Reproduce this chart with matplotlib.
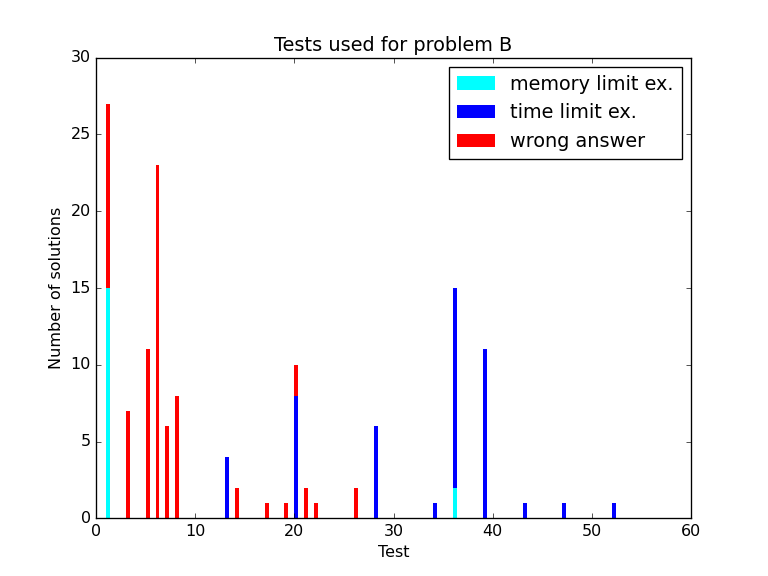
import numpy as np
import matplotlib
matplotlib.use('Agg')
import matplotlib.pyplot as plt

plt.style.use('classic')

# tests that had at least one failing solution
tests = [1, 3, 5, 6, 7, 8, 13, 14, 17, 19, 20, 21, 22, 26, 28, 34, 36, 39, 43, 47, 52]
memory = [15, 0, 0, 0, 0, 0, 0, 0, 0, 0, 0, 0, 0, 0, 0, 0, 2, 0, 0, 0, 0]
time_lim = [0, 0, 0, 0, 0, 0, 4, 0, 0, 0, 8, 0, 0, 0, 6, 1, 13, 11, 1, 1, 1]
wrong = [12, 7, 11, 23, 6, 8, 0, 2, 1, 1, 2, 2, 1, 2, 0, 0, 0, 0, 0, 0, 0]

x = np.array(tests)
mem = np.array(memory)
tl = np.array(time_lim)
wa = np.array(wrong)

fig = plt.figure(figsize=(8, 6), facecolor='white')
ax = fig.add_subplot(111)

w = 0.4
ax.bar(x, mem, w, align='edge', color='cyan', linewidth=0, label='memory limit ex.')
ax.bar(x, tl, w, bottom=mem, align='edge', color='blue', linewidth=0, label='time limit ex.')
ax.bar(x, wa, w, bottom=mem + tl, align='edge', color='red', linewidth=0, label='wrong answer')

ax.set_xlim(0, 60)
ax.set_ylim(0, 30)
ax.set_title('Tests used for problem B')
ax.set_xlabel('Test')
ax.set_ylabel('Number of solutions')
ax.legend(loc='upper right')

fig.savefig('out.png', dpi=96, facecolor='white')
